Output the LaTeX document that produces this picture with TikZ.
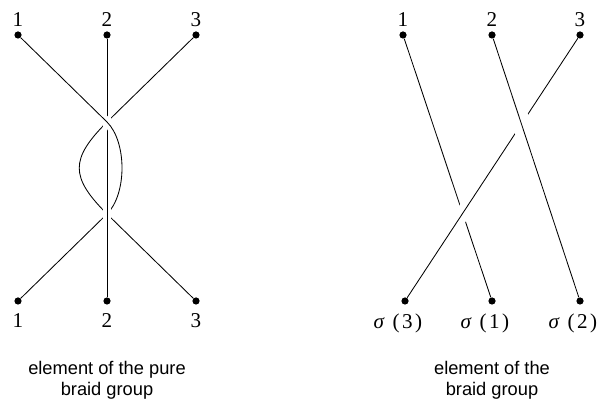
\documentclass[tikz,border=0pt]{standalone}
\usepackage{fontspec}
\setmainfont{Liberation Serif}
\setsansfont{Liberation Sans}
\usetikzlibrary{positioning}
\newcommand{\perm}[1]{{\itshape σ}\hspace{.4em}(\hspace{.12em}#1\hspace{.12em})}

\begin{document}
\begin{tikzpicture}[
  dot/.style={circle,fill,inner sep=0pt,minimum size=1.8mm},
  num/.style={inner sep=1pt,font=\fontsize{15}{18}\selectfont},
  strand/.style={line width=0.6pt},
  over/.style={preaction={draw,white,line width=#1}},
  caption/.style={inner sep=0pt,align=center,font=\sffamily\fontsize{13}{15}\selectfont}
]
  \useasboundingbox (0,0) rectangle (15.075,10.025);

  % Pure braid
  \foreach \n/\x in {1/0.45,2/2.675,3/4.9} {
    \node[dot] (l\n) at (\x,9.15) {};
    \node[num,above=2pt of l\n] (lt\n) {\n};
    \node[dot] (b\n) at (\x,2.5) {};
    \node[num,below=5pt of b\n] (lb\n) {\n};
  }
  \coordinate (x1) at (2.675,6.975);
  \coordinate (x2) at (2.675,4.675);
  \coordinate (mid) at (3.05,5.825);

  \draw[strand] (l3) -- (x1) .. controls (1.75,6.05) and (1.75,5.6) .. (x2) -- (b3);
  \draw[strand] (mid) .. controls (3.05,5.375) and (2.925,4.925) .. (x2) -- (b1);
  \draw[strand,over=6pt] (l2) -- (b2);
  \draw[strand,over=6.5pt] (l1) -- (x1) .. controls (2.925,6.725) and (3.05,6.275) .. (mid);

  \node[caption,below=40pt of b2] (capL) {element of the pure\\braid group};

  % Braid
  \foreach \n/\x in {1/10.075,2/12.3,3/14.5} {
    \node[dot] (r\n) at (\x,9.15) {};
    \node[num,above=2pt of r\n] (rt\n) {\n};
  }
  \foreach \s/\x in {3/10.125,1/12.3,2/14.5} {
    \node[dot] (q\s) at (\x,2.5) {};
    \node[num,below=5pt of q\s,xshift=-5pt] (lq\s) {\perm{\s}};
  }
  \draw[strand] (r1) -- (q1);
  \draw[strand,over=10pt] (r3) -- (q3);
  \draw[strand,over=13pt] (r2) -- (q2);

  \node[caption,below=40pt of q1] (capR) {element of the\\braid group};
\end{tikzpicture}
\end{document}
